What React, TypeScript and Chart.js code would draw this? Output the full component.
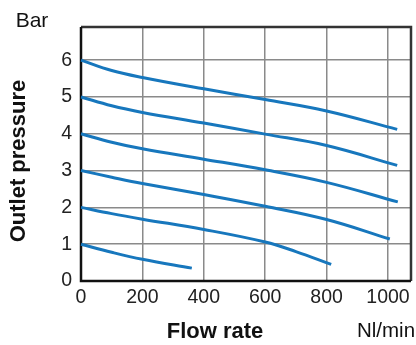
import React, { useEffect, useRef } from "react";
import { Chart, registerables } from "chart.js";

Chart.register(...registerables);

const xTickValues = [0, 200, 400, 600, 800, 1000];
const yTickValues = [0, 1, 2, 3, 4, 5, 6];

const curve6X = [0, 100, 200, 400, 600, 800, 1030];
const curve6Y = [6.0, 5.72, 5.53, 5.22, 4.93, 4.62, 4.12];
const curve5X = [0, 100, 200, 400, 600, 800, 1030];
const curve5Y = [5.0, 4.76, 4.58, 4.29, 3.99, 3.68, 3.14];
const curve4X = [0, 100, 200, 400, 600, 800, 1032];
const curve4Y = [4.0, 3.77, 3.59, 3.31, 3.02, 2.68, 2.15];
const curve3X = [0, 100, 200, 400, 600, 800, 1006];
const curve3Y = [3.0, 2.82, 2.65, 2.35, 2.03, 1.67, 1.14];
const curve2X = [0, 100, 200, 400, 600, 700, 815];
const curve2Y = [2.0, 1.83, 1.68, 1.4, 1.06, 0.8, 0.45];
const curve1X = [0, 100, 200, 361];
const curve1Y = [1.0, 0.78, 0.59, 0.35];

const yAxisTitle = "Outlet pressure";
const xAxisTitle = "Flow rate";
const yUnit = "Bar";
const xUnit = "Nl/min";

const FONT = "'Liberation Sans', Arial, Helvetica, sans-serif";
const LINE_COLOR = "#1777bd";

function pts(xs: number[], ys: number[]) {
  return xs.map((x, i) => ({ x, y: ys[i] }));
}

const framePlugin = {
  id: "frame",
  beforeDatasetsDraw(chart: any) {
    const { ctx, chartArea } = chart;
    const { left, right, top, bottom } = chartArea;
    ctx.save();
    ctx.strokeStyle = "#333333";
    ctx.lineWidth = 2.5;
    ctx.beginPath();
    ctx.moveTo(left, top);
    ctx.lineTo(right, top);
    ctx.lineTo(right, bottom);
    ctx.stroke();
    ctx.strokeStyle = "#111111";
    ctx.lineWidth = 2.5;
    ctx.beginPath();
    ctx.moveTo(left, top);
    ctx.lineTo(left, bottom);
    ctx.lineTo(right, bottom);
    ctx.stroke();
    ctx.restore();
  },
  afterDraw(chart: any) {
    const { ctx } = chart;
    ctx.save();
    ctx.fillStyle = "#111111";
    ctx.textBaseline = "middle";
    ctx.textAlign = "center";
    ctx.font = `21px ${FONT}`;
    ctx.fillText(yUnit, 32, 21);
    ctx.font = `20.5px ${FONT}`;
    ctx.fillText(xUnit, 386, 331);
    ctx.font = `bold 22px ${FONT}`;
    ctx.fillText(xAxisTitle, 215, 332);
    ctx.translate(19, 161);
    ctx.rotate(-Math.PI / 2);
    ctx.fillText(yAxisTitle, 0, 0);
    ctx.restore();
  },
};

export default function App() {
  const ref = useRef<HTMLCanvasElement | null>(null);
  useEffect(() => {
    if (!ref.current) return;
    const series = [
      [curve6X, curve6Y],
      [curve5X, curve5Y],
      [curve4X, curve4Y],
      [curve3X, curve3Y],
      [curve2X, curve2Y],
      [curve1X, curve1Y],
    ];
    const chart = new Chart(ref.current, {
      type: "line",
      data: {
        datasets: series.map(([xs, ys]) => ({
          data: pts(xs, ys),
          borderColor: LINE_COLOR,
          borderWidth: 3,
          pointRadius: 0,
          fill: false,
          tension: 0.4,
          clip: false as any,
          borderCapStyle: "butt" as const,
        })),
      },
      plugins: [framePlugin],
      options: {
        responsive: false,
        animation: false,
        events: [],
        layout: { padding: { top: 27, right: 5, left: 0, bottom: 0 } },
        plugins: { legend: { display: false }, tooltip: { enabled: false } },
        scales: {
          x: {
            type: "linear",
            min: 0,
            max: 1075,
            afterFit(scale: any) {
              scale.height = 64;
            },
            afterBuildTicks(scale: any) {
              scale.ticks = xTickValues.map((v) => ({ value: v }));
            },
            ticks: {
              includeBounds: false,
              padding: 5,
              color: "#222222",
              font: { family: FONT, size: 19.5 },
              maxRotation: 0,
              callback: (v: any) => String(v),
            },
            grid: { color: "#8a8a8a", lineWidth: 1.5, drawTicks: false },
            border: { display: false },
          },
          y: {
            type: "linear",
            min: 0,
            max: 6.9,
            afterFit(scale: any) {
              scale.width = 81;
            },
            afterBuildTicks(scale: any) {
              scale.ticks = yTickValues.map((v) => ({ value: v }));
            },
            ticks: {
              includeBounds: false,
              padding: 9,
              color: "#222222",
              font: { family: FONT, size: 19.5 },
              callback: (v: any) => String(v),
            },
            grid: { color: "#8a8a8a", lineWidth: 1.5, drawTicks: false },
            border: { display: false },
          },
        },
      },
    } as any);
    return () => chart.destroy();
  }, []);
  return (
    <div style={{ position: "fixed", left: 0, top: 0, width: 416, height: 345, background: "#fff" }}>
      <canvas ref={ref} width={416} height={345} style={{ width: 416, height: 345, display: "block" }} />
    </div>
  );
}
